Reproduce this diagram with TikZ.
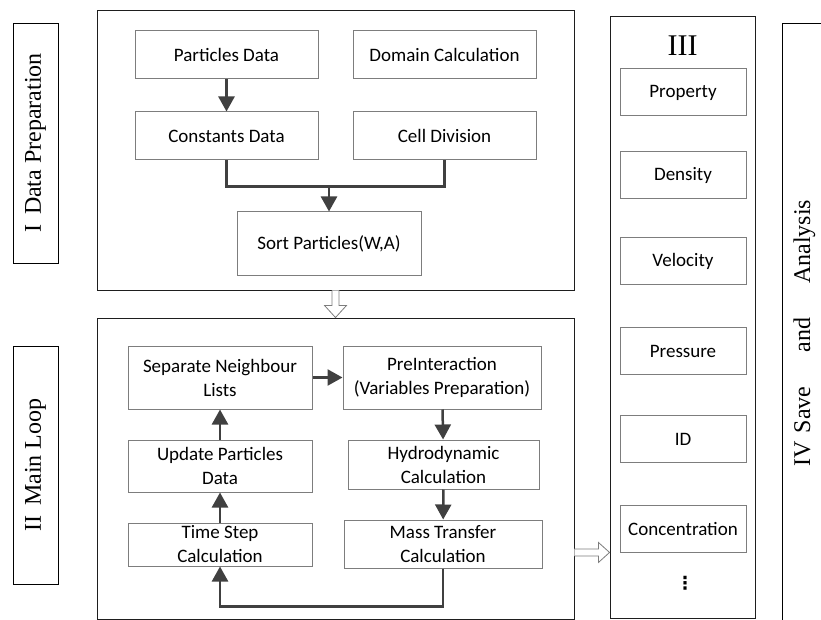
\documentclass[tikz,border=0pt]{standalone}
\usepackage{fontspec}
\setmainfont{Liberation Serif}
\newfontfamily\boxfont{Carlito}
\newfontfamily\dotsfont{DejaVu Sans}
\usetikzlibrary{arrows.meta,calc}

\definecolor{framegray}{RGB}{30,30,30}
\definecolor{boxgray}{RGB}{125,125,125}
\definecolor{flowgray}{RGB}{64,64,64}

\tikzset{
    frame/.style={draw=framegray, line width=0.9pt, inner sep=0pt},
    stagetag/.style={draw=black, line width=0.9pt, rotate=90, inner sep=0pt, font=\fontsize{24}{28}\selectfont},
    item/.style={draw=boxgray, line width=1pt, inner sep=0pt, align=center, font=\boxfont\fontsize{19}{24}\selectfont},
    link/.style={draw=flowgray, line width=2.5pt},
    flow/.style={link, -{Triangle[length=15pt,width=16pt]}},
    hollow/.style={draw=boxgray, fill=white, line width=0.8pt}
}

\begin{document}
\begin{tikzpicture}[x=1pt, y=-1pt]
\useasboundingbox (0,0) rectangle (821,620);
\clip (0,0) rectangle (821,620);

    % stage tags
    \node[stagetag, minimum width=240pt, minimum height=45pt] (tagprep) at (35.5,143) {I\hspace{10pt}Data Preparation};
    \node[stagetag, minimum width=238pt, minimum height=45pt] (tagloop) at (35.5,465) {II\hspace{10pt}Main Loop};
    \node[stagetag, minimum width=620pt, minimum height=45pt] (tagsave) at (804.5,333) {IV\hspace{8pt}Save\hspace{34pt}and\hspace{34pt}Analysis};

    % frames
    \node[frame, minimum width=477pt, minimum height=280pt] (prep) at (335.5,150) {};
    \node[frame, minimum width=477pt, minimum height=301pt] (loop) at (335.5,468.5) {};
    \node[frame, minimum width=145pt, minimum height=602pt] (store) at (682.5,317) {};

    % I  data preparation
    \node[item, minimum width=183pt, minimum height=48pt] (pdata) at (226.5,55) {Particles Data};
    \node[item, minimum width=183pt, minimum height=48pt] (domain) at (444.5,55) {Domain Calculation};
    \node[item, minimum width=183pt, minimum height=48pt] (cdata) at (226.5,136) {Constants Data};
    \node[item, minimum width=183pt, minimum height=48pt] (cells) at (444.5,136) {Cell Division};
    \node[item, minimum width=184pt, minimum height=63pt] (sort) at (329,243.5) {Sort Particles(W,A)};
    \draw[flow] (pdata) -- (cdata);
    \coordinate (merge) at ($(sort.north)+(0,-25)$);
    \draw[link] (cdata.south) |- (merge) -| (cells.south);
    \draw[flow] (merge) -- (sort);

    % II  main loop
    \node[item, minimum width=184pt, minimum height=63pt] (nlist) at (220,377.5) {Separate Neighbour\\Lists};
    \node[item, minimum width=184pt, minimum height=52pt] (update) at (220,466) {Update Particles\\Data};
    \node[item, minimum width=184pt, minimum height=43pt] (tstep) at (220,544.5) {Time Step\\Calculation};
    \node[item, minimum width=198pt, minimum height=63pt] (preint) at (442,377.5) {PreInteraction\\(Variables Preparation)};
    \node[item, minimum width=191pt, minimum height=49pt] (hydro) at (443.5,464.5) {Hydrodynamic\\Calculation};
    \node[item, minimum width=198pt, minimum height=48pt] (mass) at (443,544) {Mass Transfer\\Calculation};
    \draw[flow] (tstep) -- (update);
    \draw[flow] (update) -- (nlist);
    \draw[flow] (nlist) -- (preint);
    \draw[flow] (preint) -- (hydro);
    \draw[flow] (hydro) -- (mass);
    \draw[flow] (mass.south) -- ++(0,38) -| (tstep.south);

    % III  stored variables
    \node[font=\fontsize{30}{30}\selectfont] (storetitle) at (682.5,46) {III};
    \foreach \name/\y/\txt in {prop/92.5/Property, dens/175/Density, velo/261/Velocity,
                               pres/351/Pressure, pid/439/ID, conc/529/Concentration}
        \node[item, minimum width=126pt, minimum height=47pt] (\name) at (683,\y) {\txt};
    \node[font=\dotsfont\bfseries\fontsize{18}{18}\selectfont] (more) at (685,583) {⋮};

    % hollow arrows between the stages
    \draw[hollow] ($(prep.south)+(-3.5,0)$) -- ($(prep.south)+(-3.5,15)$) -- ($(prep.south)+(-11,15)$)
        -- (loop.north) -- ($(prep.south)+(11,15)$) -- ($(prep.south)+(3.5,15)$) -- ($(prep.south)+(3.5,0)$);
    \coordinate (out) at ($(loop.south east)+(0,-67)$);
    \draw[hollow] ($(out)+(0,-3.5)$) -- ($(out)+(24,-3.5)$) -- ($(out)+(24,-10)$)
        -- (out -| store.west) -- ($(out)+(24,10)$) -- ($(out)+(24,3.5)$) -- ($(out)+(0,3.5)$);
\end{tikzpicture}
\end{document}
